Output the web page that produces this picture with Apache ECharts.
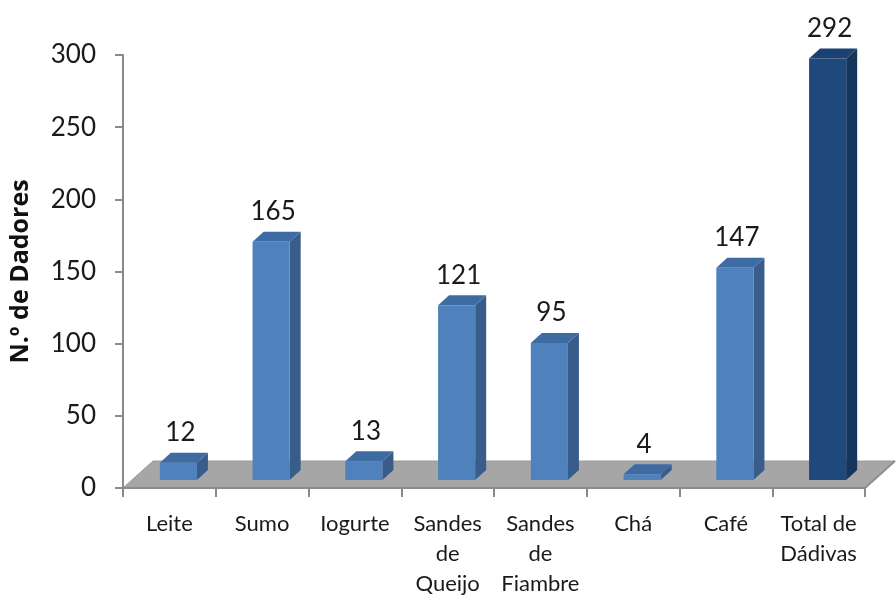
<!DOCTYPE html>
<html>
<head>
<meta charset="utf-8">
<script src="https://cdn.jsdelivr.net/npm/echarts@6/dist/echarts.min.js"></script>
<style>
html,body{margin:0;padding:0;background:#fff;}
#chart{width:896px;height:603px;}
</style>
</head>
<body>
<div id="chart"></div>
<script>
const categories = ['Leite', 'Sumo', 'Iogurte', 'Sandes\nde\nQueijo', 'Sandes\nde\nFiambre', 'Chá', 'Café', 'Total de\nDádivas'];
const values = [12, 165, 13, 121, 95, 4, 147, 292];
const yMin = 0, yMax = 300, yInterval = 50;
const yAxisTitle = 'N.º de Dadores';

const FONT = 'Lato, Roboto, sans-serif';
const totalIndex = categories.length - 1;

// 3D look parameters (pixels)
const FLOOR_DX = 30, FLOOR_DY = -27;
const BAR_SHIFT_X = 9, BAR_SHIFT_Y = -8;
const BAR_DX = 11, BAR_DY = -10;

const chart = echarts.init(document.getElementById('chart'), null, {renderer: 'canvas'});

function floorItem(params, api) {
  const cs = params.coordSys;
  const x0 = cs.x, x1 = cs.x + cs.width, y0 = cs.y + cs.height;
  return {
    type: 'group',
    children: [
      {
        type: 'polygon',
        shape: {points: [[x0, y0], [x1, y0], [x1 + FLOOR_DX, y0 + FLOOR_DY], [x0 + FLOOR_DX, y0 + FLOOR_DY]]},
        style: {fill: '#a6a6a6', stroke: '#9a9a9a', lineWidth: 1}
      },
      {
        type: 'line',
        shape: {x1: x1, y1: y0, x2: x1 + FLOOR_DX, y2: y0 + FLOOR_DY},
        style: {stroke: '#8f8f8f', lineWidth: 2}
      }
    ]
  };
}

function barItem(params, api) {
  const idx = api.value(0);
  const val = api.value(1);
  const base = api.coord([idx, 0]);
  const top = api.coord([idx, val]);
  const band = api.size([1, 0])[0];
  const w = band * 0.4;
  const cx = base[0] + BAR_SHIFT_X;
  const xl = cx - w / 2, xr = cx + w / 2;
  const yb = base[1] + BAR_SHIFT_Y;
  const yt = top[1] + BAR_SHIFT_Y;
  const isTotal = idx === totalIndex;
  const cFront = isTotal ? '#1f497d' : '#4f81bd';
  const cSide = isTotal ? '#16355b' : '#385d8a';
  const cTop = isTotal ? '#1c4070' : '#3f6ba3';
  return {
    type: 'group',
    children: [
      {type: 'polygon', shape: {points: [[xr, yb], [xr + BAR_DX, yb + BAR_DY], [xr + BAR_DX, yt + BAR_DY], [xr, yt]]}, style: {fill: cSide}},
      {type: 'polygon', shape: {points: [[xl, yt], [xr, yt], [xr + BAR_DX, yt + BAR_DY], [xl + BAR_DX, yt + BAR_DY]]}, style: {fill: cTop}},
      {type: 'rect', shape: {x: xl, y: yt, width: w, height: yb - yt}, style: {fill: cFront}},
      {type: 'text', x: cx + 2, y: yt + BAR_DY - 7, style: {text: String(val), align: 'center', verticalAlign: 'bottom', fontSize: 26, fontFamily: FONT, fill: '#1a1a1a'}}
    ]
  };
}

const option = {
  backgroundColor: '#ffffff',
  animation: false,
  grid: {left: 123, right: 31, top: 55, bottom: 115, containLabel: false},
  xAxis: {
    type: 'category',
    data: categories,
    boundaryGap: true,
    z: 5,
    axisLine: {show: true, lineStyle: {color: '#8a8a8a', width: 2}},
    axisTick: {show: true, alignWithLabel: false, length: 9, lineStyle: {color: '#8a8a8a', width: 2}},
    axisLabel: {interval: 0, margin: 21, fontSize: 22, lineHeight: 30, fontFamily: FONT, color: '#1a1a1a', verticalAlign: 'top'},
    splitLine: {show: false}
  },
  yAxis: {
    type: 'value',
    min: yMin, max: yMax, interval: yInterval,
    z: 5,
    name: yAxisTitle,
    nameLocation: 'middle',
    nameGap: 90,
    nameRotate: 90,
    nameTextStyle: {fontSize: 25, fontWeight: 'bold', fontFamily: '"Open Sans", sans-serif', color: '#111'},
    axisLine: {show: true, lineStyle: {color: '#8a8a8a', width: 2}},
    axisTick: {show: true, length: 8, lineStyle: {color: '#8a8a8a', width: 2}},
    axisLabel: {margin: 27, fontSize: 26, fontFamily: FONT, color: '#1a1a1a'},
    splitLine: {show: false}
  },
  series: [
    {
      type: 'custom',
      z: 1,
      silent: true,
      data: [[0, 0]],
      renderItem: floorItem,
      clip: false
    },
    {
      type: 'custom',
      z: 3,
      data: values.map((v, i) => [i, v]),
      encode: {x: 0, y: 1},
      renderItem: barItem,
      clip: false
    }
  ]
};
chart.setOption(option);
</script>
</body>
</html>
